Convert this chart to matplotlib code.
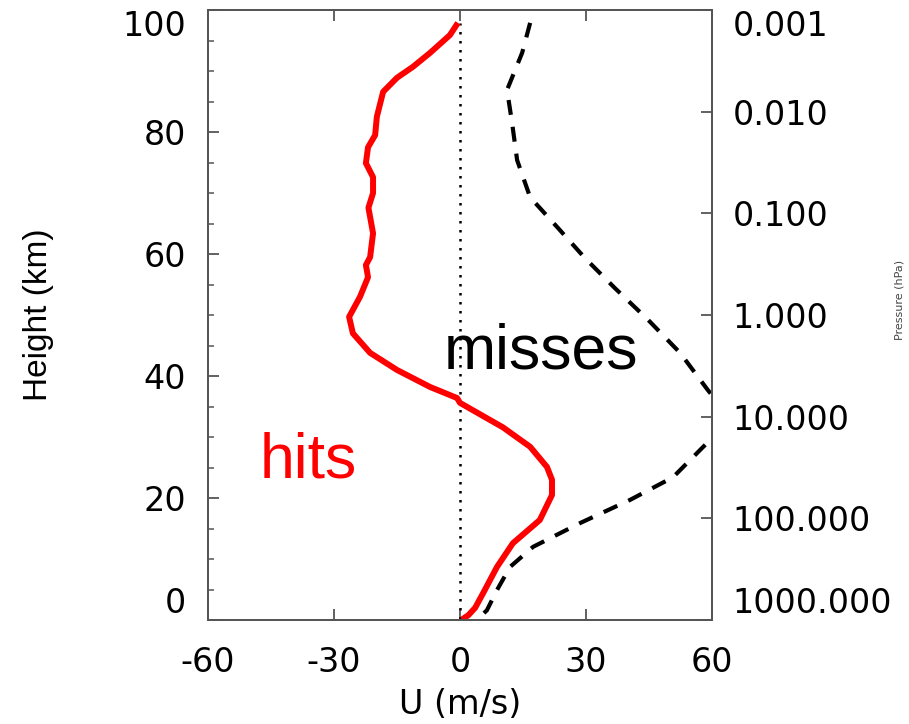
import numpy as np
import matplotlib
matplotlib.use('Agg')
import matplotlib.pyplot as plt
from matplotlib.ticker import FixedLocator, FuncFormatter

# zonal wind profiles (U in m/s vs height in km)
hits_h = [97.9, 95.9, 93.0, 90.7, 88.9, 86.6, 82.5, 79.5, 77.5, 74.9, 72.6, 70.0,
          67.6, 63.4, 59.5, 58.2, 56.2, 53.0, 49.7, 47.0, 43.8, 41.0, 38.2, 36.4,
          35.6, 31.6, 28.4, 25.1, 23.0, 20.5, 16.4, 12.6, 8.7, 4.4, 2.0, 0.8, 0.1]
hits_u = [-0.5, -2.4, -7.1, -11.2, -15.0, -18.3, -19.8, -20.2, -21.9, -22.4, -20.7, -20.7,
          -21.8, -20.7, -21.4, -22.4, -21.9, -23.8, -26.4, -25.5, -21.4, -15.0, -7.1, -0.7,
          0.0, 10.2, 16.7, 20.7, 21.9, 21.9, 19.0, 12.6, 8.8, 5.5, 3.6, 2.0, 0.5]

misses_h = [97.9, 93.0, 86.9, 81.5, 75.4, 69.3, 64.3, 59.3, 54.4, 49.2, 43.8, 37.7,
            33.5, 29.5, 23.4, 19.7, 15.9, 12.0, 8.7, 4.9, 1.6, 0.0]
misses_u = [16.7, 14.8, 11.2, 12.4, 13.6, 16.7, 23.3, 29.8, 36.9, 44.8, 52.4, 59.0,
            64.0, 59.5, 50.7, 40.5, 28.6, 17.4, 11.9, 8.8, 6.4, 4.0]

x_ticks = [-60, -30, 0, 30, 60]
y_ticks = [0, 20, 40, 60, 80, 100]
p_ticks = [1000, 100, 10, 1, 0.1, 0.01, 0.001]

spine_col = '#555555'

fig = plt.figure(figsize=(9.09, 7.24), dpi=100)
ax = fig.add_axes([0.2288, 0.1436, 0.5545, 0.8425])

ax.vlines(0, min(hits_h), max(hits_h), colors='black', linestyles=(0, (1, 2.6)), lw=1.8)
ax.plot(misses_u, misses_h, color='black', lw=3, linestyle=(0, (3.6, 2.9)))
ax.plot(hits_u, hits_h, color='#ff0000', lw=4.3, solid_capstyle='butt',
        solid_joinstyle='round')

ax.set_xlim(-60, 60)
ax.set_ylim(0, 100)
ax.set_xticks(x_ticks)
ax.set_yticks(y_ticks)
ax.yaxis.set_minor_locator(FixedLocator(np.arange(0, 101, 5)))

for s in ax.spines.values():
    s.set_color(spine_col)
    s.set_linewidth(1.3)

ax.tick_params(axis='x', which='major', direction='in', length=8, width=1.3,
               color=spine_col, top=True, labelsize=24, pad=19)
ax.tick_params(axis='y', which='major', direction='in', length=8, width=1.3,
               color=spine_col, labelsize=24, pad=16)
ax.tick_params(axis='y', which='minor', direction='in', length=4, width=1.1,
               color=spine_col)
ax.set_xticklabels([str(v) for v in x_ticks], family='DejaVu Sans')
ax.set_yticklabels([str(v) for v in y_ticks], family='DejaVu Sans')
ylabs = ax.get_yticklabels()
ylabs[0].set_va('bottom')
ylabs[-1].set_va('top')

ax.set_xlabel('U (m/s)', fontsize=24, family='DejaVu Sans')
ax.xaxis.set_label_coords(0.5, -0.112)
ax.set_ylabel('Height (km)', fontsize=24,
              family=['Liberation Sans Narrow', 'Liberation Sans'])
ax.yaxis.set_label_coords(-0.305, 0.5)

# pressure axis on the right
ax2 = ax.twinx()
ax2.set_yscale('log')
ax2.set_ylim(1000, 0.001)
ax2.yaxis.set_major_locator(FixedLocator(p_ticks))
ax2.yaxis.set_minor_locator(FixedLocator([]))
ax2.yaxis.set_major_formatter(FuncFormatter(lambda v, pos: '%.3f' % v))
ax2.tick_params(axis='y', which='major', direction='in', length=8, width=1.3,
                color=spine_col, labelsize=24, pad=15, labelfontfamily='DejaVu Sans')
for s in ax2.spines.values():
    s.set_color(spine_col)
    s.set_linewidth(1.3)
fig.canvas.draw()
plabs = ax2.get_yticklabels()
plabs[0].set_va('bottom')
plabs[-1].set_va('top')

fig.text(900 / 909, 1 - 300 / 724, 'Pressure (hPa)', fontsize=8, color='#444444',
         rotation=90, ha='center', va='center')

ax.text(-47.6, 23.3, 'hits', color='#ff0000', fontsize=45,
        family='Liberation Sans', va='baseline', ha='left')
ax.text(-3.8, 41.3, 'misses', color='black', fontsize=45,
        family='Liberation Sans', va='baseline', ha='left')

fig.savefig('out.png', dpi=100)
